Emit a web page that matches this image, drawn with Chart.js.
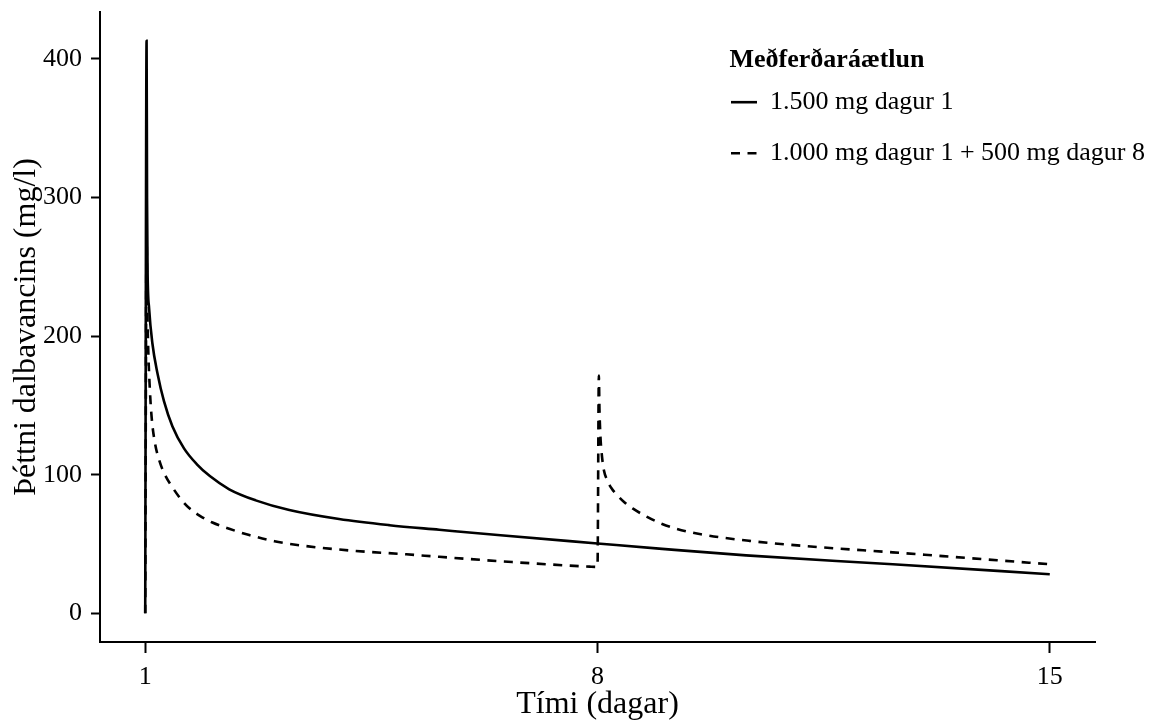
<!DOCTYPE html>
<html lang="is">
<head>
<meta charset="utf-8">
<title>Þéttni dalbavancins</title>
<script src="https://cdn.jsdelivr.net/npm/chart.js@4/dist/chart.umd.min.js"></script>
<style>
  body { margin: 0; background: #fff; }
  #wrap { position: relative; width: 1161px; height: 720px; }
</style>
</head>
<body>
<div id="wrap"><canvas id="canvasconc"></canvas></div>
<script>
'use strict'

  ////////////////////////////////////////
 // values //
////////////////////////////////////////

// 1.500 mg dagur 1
const DAYS_SINGLE = [ 1, 1.021, 1.028, 1.036, 1.06, 1.11, 1.19, 1.29, 1.42, 1.6, 1.8, 2.0,
                      2.3, 2.71, 3.23, 4.0, 4.78, 5.55, 6.5, 8.0, 9.0, 10.3, 12.57, 15 ];
const CONC_SINGLE = [ 0, 413, 300, 248, 220, 195, 173, 153, 135, 119, 107.5, 99,
                      89.5, 81.5, 74.5, 68, 63.6, 60.3, 56.3, 50.4, 46.5, 41.8, 35.4, 28.2 ];

// 1.000 mg dagur 1 + 500 mg dagur 8
const DAYS_SPLIT = [ 1, 1.021, 1.03, 1.045, 1.07, 1.1, 1.15, 1.22, 1.3, 1.42, 1.55, 1.68,
                     1.84, 2.04, 2.3, 2.61, 3.0, 3.49, 4.26, 5.04, 5.55, 6.68, 7.88, 8.0,
                     8.021, 8.03, 8.045, 8.07, 8.1, 8.15, 8.22, 8.3, 8.42, 8.55, 8.76, 9.0,
                     9.22, 9.6, 10.35, 11.5, 12.57, 15 ];
const CONC_SPLIT = [ 0, 275, 228, 193, 163, 141, 123, 110, 100.5, 91, 82.5, 76,
                     70.5, 65.5, 61, 56.5, 52, 48.5, 45, 42.6, 40.8, 37, 33.7, 33.5,
                     171.6, 148, 128, 113, 103, 96, 90, 85.5, 80, 75.5, 69.8, 64.5,
                     61, 57, 52.3, 47.5, 44, 35.4 ];

const X_TICKS = [ 1, 8, 15 ];
const Y_TICKS = [ 0, 100, 200, 300, 400 ];

const SERIES_LABELS = [ '1.500 mg dagur 1', '1.000 mg dagur 1 + 500 mg dagur 8' ];
const LEGEND_TITLE = 'Meðferðaráætlun';
const X_TITLE = 'Tími (dagar)';
const Y_TITLE = 'Þéttni dalbavancins (mg/l)';

  ///////////////
 // helpers   //
///////////////

const toPoints = ( days, conc ) => days.map( ( d, i ) => ({ x: d, y: conc[i] }) );

// legend sits inside the panel, top right
const legendPlacer = {
  id: 'legendPlacer',
  afterLayout: chart => {
    const lg = chart.legend;
    lg.left = 706;
    lg.top = 47;
    lg.width = 242;          // only used to centre the title
    lg.right = 1161;         // clip box
    lg.bottom = lg.top + 300;
  }
};

// legend samples should look like the lines (dash + width)
const lineLabels = chart => {
  const items = Chart.defaults.plugins.legend.labels.generateLabels( chart );
  items.forEach( item => {
    const ds = chart.data.datasets[ item.datasetIndex ];
    item.lineDash = ds.borderDash || [];
    item.lineWidth = ds.borderWidth;
  });
  return items;
}

Chart.defaults.font.family = "'Liberation Serif', 'DejaVu Serif', serif";
Chart.defaults.color = '#000';

const axisGrid = len => ({
  drawOnChartArea: false,
  drawTicks: true,
  tickLength: len,
  tickWidth: 2,
  tickColor: '#000'
});

  /////////////////////
 // build the chart //
/////////////////////

window.onload = () => {

  new Chart(
    document.getElementById( 'canvasconc' ),
    {
      type: 'line',
      data: {
        datasets: [
          {
            label: SERIES_LABELS[0],
            data: toPoints( DAYS_SINGLE, CONC_SINGLE ),
            borderColor: '#000',
            backgroundColor: '#000',
            borderWidth: 2.6,
            pointRadius: 0,
            cubicInterpolationMode: 'monotone'
          },
          {
            label: SERIES_LABELS[1],
            data: toPoints( DAYS_SPLIT, CONC_SPLIT ),
            borderColor: '#000',
            backgroundColor: '#000',
            borderWidth: 2.6,
            borderDash: [ 9, 7.5 ],
            pointRadius: 0,
            cubicInterpolationMode: 'monotone'
          }
        ]
      },
      options: {
        responsive: true,
        maintainAspectRatio: false,
        animation: false,
        layout: { padding: { top: 12, right: 66, bottom: 0, left: 0 } },
        scales: {
          x: {
            type: 'linear',
            min: 0.3,
            max: 15.7,
            afterBuildTicks: scale => { scale.ticks = X_TICKS.map( v => ({ value: v }) ) },
            afterFit: scale => { scale.height = 78; scale.paddingLeft = 0; scale.paddingRight = 0 },
            grid: axisGrid( 11 ),
            border: { display: true, color: '#000', width: 2 },
            ticks: { color: '#000', font: { size: 26 }, padding: 9, maxRotation: 0, autoSkip: false },
            title: { display: true, text: X_TITLE, color: '#000', font: { size: 32, lineHeight: 1 }, padding: { top: 0, bottom: -1 } }
          },
          y: {
            type: 'linear',
            min: -20.65,
            max: 433.7,
            afterBuildTicks: scale => { scale.ticks = Y_TICKS.map( v => ({ value: v }) ) },
            afterFit: scale => { scale.width = 100; scale.paddingTop = 0; scale.paddingBottom = 0 },
            grid: axisGrid( 9 ),
            border: { display: true, color: '#000', width: 2 },
            ticks: { color: '#000', font: { size: 26 }, padding: 9, autoSkip: false },
            title: { display: true, text: Y_TITLE, color: '#000', font: { size: 32 }, padding: { top: 7, bottom: 0 } }
          }
        },
        plugins: {
          tooltip: { enabled: false },
          legend: {
            display: true,
            position: 'chartArea',
            align: 'start',
            title: {
              display: true,
              text: LEGEND_TITLE,
              position: 'center',
              color: '#000',
              font: { size: 26, weight: 'bold' },
              padding: { top: 0, bottom: -14 }
            },
            labels: {
              color: '#000',
              font: { size: 26 },
              usePointStyle: true,
              pointStyle: 'line',
              pointStyleWidth: 26,
              padding: 25,
              generateLabels: lineLabels
            }
          }
        }
      },
      plugins: [ legendPlacer ]
    }
  );
}
</script>
</body>
</html>
